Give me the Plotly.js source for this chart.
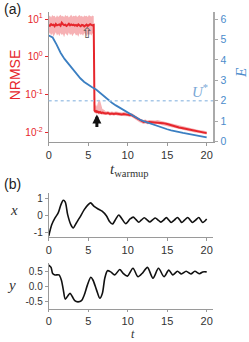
<!DOCTYPE html>
<html><head><meta charset="utf-8">
<script src="https://cdn.plot.ly/plotly-3.0.1.min.js"></script>
<style>html,body{margin:0;padding:0;background:#fff}</style>
</head><body><div id="chart" style="width:249px;height:342px"></div>
<script>
// ---- Panel (a): NRMSE vs warm-up time ----
const tWarm = [0,0.15,0.3,0.45,0.6,0.75,0.9,1.05,1.2,1.35,1.5,1.65,1.8,1.95,2.1,2.25,2.4,2.55,2.7,2.85,3.0,3.15,3.3,3.45,3.6,3.75,3.9,4.05,4.2,4.35,4.5,4.65,4.8,4.95,5.1,5.25,5.4,5.55,5.7,
  5.75,5.8,5.9,6.0,6.1,6.2,6.35,6.5,6.65,6.8,7.0,
  7.25,7.5,7.75,8.0,8.25,8.5,8.75,9.0,9.25,9.5,9.75,10.0,10.25,10.5,10.75,11.0,11.25,11.5,11.75,12.0,12.25,12.5,12.75,13,13.25,13.5,13.75,14,
  14.5,15,15.5,16,16.5,17,17.5,18,18.5,19,19.5,20];
const nrmseMean = [7.0,6.6,7.3,6.9,7.1,6.5,7.4,6.8,7.0,7.2,6.7,8.0,7.3,6.9,7.1,6.6,7.0,7.5,6.8,7.2,6.9,7.1,6.7,7.0,6.6,7.2,6.8,6.5,7.0,6.9,6.4,6.7,7.1,6.6,6.9,7.3,7.0,6.8,7.0,
  0.045,0.038,0.036,0.037,0.035,0.036,0.034,0.035,0.033,0.034,0.033,
  0.032,0.033,0.031,0.032,0.031,0.032,0.031,0.031,0.030,0.031,0.030,0.030,0.029,0.029,0.027,0.025,0.023,0.021,0.020,0.019,0.0195,0.0185,0.019,0.0188,0.0192,0.0186,0.019,0.0185,
  0.0178,0.0168,0.0155,0.0145,0.0137,0.013,0.0124,0.0118,0.0112,0.0107,0.0102,0.0097];
const nrmseUpper = [11.5,12.5,11.0,12.8,11.8,12.2,10.8,12.6,11.4,12.0,13.0,11.6,12.3,11.2,12.7,11.9,12.4,11.0,12.1,12.9,11.5,12.2,11.8,12.6,11.3,12.0,12.8,11.6,12.3,11.1,12.5,11.9,12.2,11.4,12.7,12.0,11.6,12.4,11.8,
  0.09,0.07,0.05,0.055,0.048,0.06,0.075,0.07,0.05,0.042,0.04,
  0.036,0.037,0.035,0.036,0.035,0.036,0.035,0.035,0.034,0.035,0.034,0.034,0.033,0.033,0.031,0.028,0.026,0.024,0.0225,0.0215,0.0222,0.021,0.0215,0.0212,0.0218,0.021,0.0214,0.0208,
  0.0198,0.0186,0.0172,0.016,0.0151,0.0143,0.0137,0.013,0.0124,0.0118,0.0113,0.0108];
const nrmseLower = [3.9,4.4,3.6,4.2,3.4,4.0,4.5,3.7,4.1,3.5,4.3,3.8,4.0,3.3,4.2,3.9,3.6,4.4,3.8,4.1,3.5,4.0,4.3,3.7,3.9,3.4,4.2,3.8,4.0,3.6,4.3,3.9,3.5,4.1,3.8,4.0,3.7,4.2,4.0,
  0.035,0.033,0.032,0.033,0.031,0.032,0.030,0.031,0.030,0.030,0.029,
  0.029,0.030,0.028,0.029,0.028,0.029,0.028,0.028,0.027,0.028,0.027,0.027,0.026,0.026,0.024,0.022,0.0205,0.0188,0.018,0.017,0.0175,0.0166,0.017,0.0168,0.0172,0.0166,0.017,0.0165,
  0.016,0.0151,0.014,0.0131,0.0124,0.0118,0.0112,0.0107,0.0101,0.0097,0.0093,0.0089];

const tE = [0,0.5,1,1.5,2,2.5,3,3.5,4,4.5,5,5.5,6,6.5,7,7.5,8,8.5,9,9.5,10,10.5,11,11.5,12,12.5,13,13.5,14,14.5,15,15.5,16,16.5,17,17.5,18,18.5,19,19.5,20];
const energyE = [5.2,5.1,4.75,4.35,4.05,3.8,3.55,3.3,3.1,2.92,2.78,2.66,2.55,2.38,2.2,2.05,1.9,1.77,1.65,1.53,1.42,1.3,1.2,1.08,1.0,0.93,0.85,0.78,0.71,0.65,0.6,0.55,0.5,0.46,0.42,0.39,0.35,0.31,0.27,0.24,0.2];
const U_star = 2;

// ---- Panel (b): trajectories ----
const tX = [0,0.38,0.8,1.2,1.55,1.85,2.1,2.4,2.8,3.1,3.5,3.9,4.5,5.0,5.3,5.75,6.25,6.76,7.3,7.7,8.07,8.5,8.87,9.2,9.75,10.3,10.7,11.05,11.4,11.75,12.1,12.45,12.8,13.15,13.5,13.85,14.2,14.55,14.9,15.2,15.5,15.9,16.3,16.6,16.85,17.2,17.6,17.9,18.2,18.6,19.0,19.25,19.5,20];
const xVals = [-1.2,-0.54,-0.15,0.14,0.62,0.87,0.76,0.04,-0.54,-0.73,-0.44,-0.15,0.33,0.62,0.72,0.52,0.37,0.24,-0.02,-0.35,-0.5,-0.21,0.02,-0.15,-0.48,-0.21,-0.1,-0.25,-0.4,-0.26,-0.14,-0.26,-0.38,-0.26,-0.15,-0.27,-0.39,-0.27,-0.13,-0.27,-0.41,-0.27,-0.12,-0.27,-0.41,-0.27,-0.12,-0.27,-0.41,-0.27,-0.12,-0.27,-0.41,-0.21];
const tY = [0,0.3,0.5,0.8,1.3,1.6,1.85,2.1,2.5,2.7,3.0,3.3,3.7,4.15,4.5,4.9,5.33,5.6,6.05,6.47,6.8,7.1,7.44,7.85,8.36,9.0,9.4,9.96,10.67,11.3,11.9,12.5,13.2,13.9,14.6,15.2,15.7,16.3,16.8,17.4,18.0,18.5,19.1,19.5,20];
const yVals = [0.71,0.63,0.43,0.38,0.38,0.21,-0.12,-0.43,-0.29,-0.23,-0.35,-0.48,-0.52,-0.48,-0.29,0.04,0.3,0.21,-0.12,-0.4,-0.23,0.27,0.52,0.48,0.38,0.56,0.44,0.34,0.6,0.32,0.45,0.63,0.27,0.6,0.32,0.54,0.38,0.5,0.41,0.5,0.41,0.5,0.42,0.48,0.48];

const RED = '#e6262c', BLUE = '#3b7fc2', GREY = '#9a9a9a';

const traces = [
  {x: tWarm, y: nrmseLower, xaxis:'x', yaxis:'y', mode:'lines', line:{width:0, color:'rgba(0,0,0,0)'}, hoverinfo:'skip', showlegend:false},
  {x: tWarm, y: nrmseUpper, xaxis:'x', yaxis:'y', mode:'lines', line:{width:0, color:'rgba(0,0,0,0)'}, fill:'tonexty', fillcolor:'rgba(238,100,105,0.5)', hoverinfo:'skip', showlegend:false},
  {x: tE, y: energyE, xaxis:'x', yaxis:'y2', mode:'lines', line:{color:BLUE, width:1.8}, showlegend:false},
  {x: tWarm, y: nrmseMean, xaxis:'x', yaxis:'y', mode:'lines', line:{color:RED, width:2}, showlegend:false},
  {x: tX, y: xVals, xaxis:'x2', yaxis:'y3', mode:'lines', line:{color:'#111', width:1.6, shape:'spline', smoothing:0.8}, showlegend:false},
  {x: tY, y: yVals, xaxis:'x3', yaxis:'y4', mode:'lines', line:{color:'#111', width:1.6, shape:'spline', smoothing:0.8}, showlegend:false}
];

const tickF = {family:'Liberation Sans, Arial, sans-serif', size:11, color:'#333'};
const xdom = [0.1956, 0.8554];
const baseX = {domain:xdom, range:[0,20.8], showline:true, linecolor:GREY, linewidth:1, ticks:'outside', ticklen:3, tickcolor:GREY, tickvals:[0,5,10,15,20], tickfont:tickF, showgrid:false, zeroline:false};
const serif = 'Liberation Serif, DejaVu Serif, serif';
function ann(text, x, y, font, extra) {
  return Object.assign({text:text, xref:'paper', yref:'paper', x:x, y:y, xanchor:'center', yanchor:'middle', showarrow:false, font:font}, extra || {});
}

const layout = {
  width:249, height:342, autosize:false,
  margin:{l:0,r:0,t:0,b:0,pad:0},
  paper_bgcolor:'#fff', plot_bgcolor:'rgba(0,0,0,0)',
  xaxis: Object.assign({}, baseX, {anchor:'y'}),
  yaxis: {domain:[0.5848,0.965], type:'log', range:[-2.248,1.187], anchor:'x', showline:true, linecolor:GREY, linewidth:1,
    ticks:'outside', ticklen:3, tickcolor:RED, tickvals:[0.01,0.1,1,10],
    ticktext:['10<sup>-2</sup>','10<sup>-1</sup>','10<sup>0</sup>','10<sup>1</sup>'],
    tickfont:{family:'Liberation Sans, Arial, sans-serif', size:10, color:RED}, showgrid:false, zeroline:false},
  yaxis2: {overlaying:'y', side:'right', anchor:'x', range:[-0.025,6.35], showline:true, linecolor:'#aaaaaa', linewidth:2.5,
    ticks:'outside', ticklen:3, tickcolor:'#aaaaaa', tickvals:[0,1,2,3,4,5,6],
    tickfont:{family:'Liberation Sans, Arial, sans-serif', size:10.5, color:'#4a8bcb'}, showgrid:false, zeroline:false},
  xaxis2: Object.assign({}, baseX, {anchor:'y3'}),
  yaxis3: {domain:[0.3079,0.4365], range:[-1.233,1.308], anchor:'x2', showline:true, linecolor:GREY, linewidth:1, ticks:'outside', ticklen:3, tickcolor:GREY,
    tickvals:[-1,0,1], ticktext:['-1','0','1'], tickfont:{family:'Liberation Sans, Arial, sans-serif', size:10, color:'#333'}, showgrid:false, zeroline:false},
  xaxis3: Object.assign({}, baseX, {anchor:'y4', ticklen:2}),
  yaxis4: {domain:[0.0965,0.2310], range:[-0.757,0.777], anchor:'x3', showline:true, linecolor:GREY, linewidth:1, ticks:'outside', ticklen:3, tickcolor:GREY,
    tickvals:[-0.5,0,0.5], ticktext:['-0.5','0.0','0.5'], tickfont:{family:'Liberation Sans, Arial, sans-serif', size:10, color:'#333'}, showgrid:false, zeroline:false},
  shapes: [
    {type:'line', xref:'x domain', x0:0, x1:1, yref:'y2', y0:U_star, y1:U_star, line:{color:'#a8c8e8', width:1.5, dash:'dot'}}
  ],
  annotations: [
    ann('(a)', 0.05, 0.975, {family:'Liberation Sans, Arial', size:14, color:'#222'}),
    ann('(b)', 0.05, 0.462, {family:'Liberation Sans, Arial', size:14, color:'#222'}),
    ann('NRMSE', 0.058, 0.781, {family:'Liberation Sans, Arial', size:14, color:RED}, {textangle:-90}),
    ann('<i>E</i>', 0.968, 0.787, {family:serif, size:15, color:'#4a8bcb'}, {textangle:-90}),
    ann('<i>t</i><sub>warmup</sub>', 0.522, 0.503, {family:serif, size:15, color:'#333'}),
    ann('<i>x</i>', 0.056, 0.386, {family:serif, size:15, color:'#333'}),
    ann('<i>y</i>', 0.048, 0.166, {family:serif, size:15, color:'#333'}),
    ann('<i>t</i>', 0.534, 0.001, {family:serif, size:12, color:'#333'}, {yanchor:'bottom', borderpad:0}),
    {text:'<i>U</i><sup>*</sup>', xref:'x', yref:'y2', x:19.1, y:2.5, xanchor:'center', yanchor:'middle', showarrow:false, font:{family:serif, size:15, color:'#7aa8d6'}},
    {text:'⇧', xref:'x', yref:'y', x:4.9, y:0.627, xanchor:'center', yanchor:'middle', showarrow:false, font:{family:'DejaVu Sans', size:15, color:'#555'}},
    {text:'', xref:'x', yref:'y', x:6.1, y:-1.52, showarrow:true, arrowhead:2, arrowsize:0.6, arrowwidth:3, arrowcolor:'#111', ax:0, ay:14}
  ]
};

Plotly.newPlot('chart', traces, layout, {displayModeBar:false, staticPlot:true});
</script></body></html>
